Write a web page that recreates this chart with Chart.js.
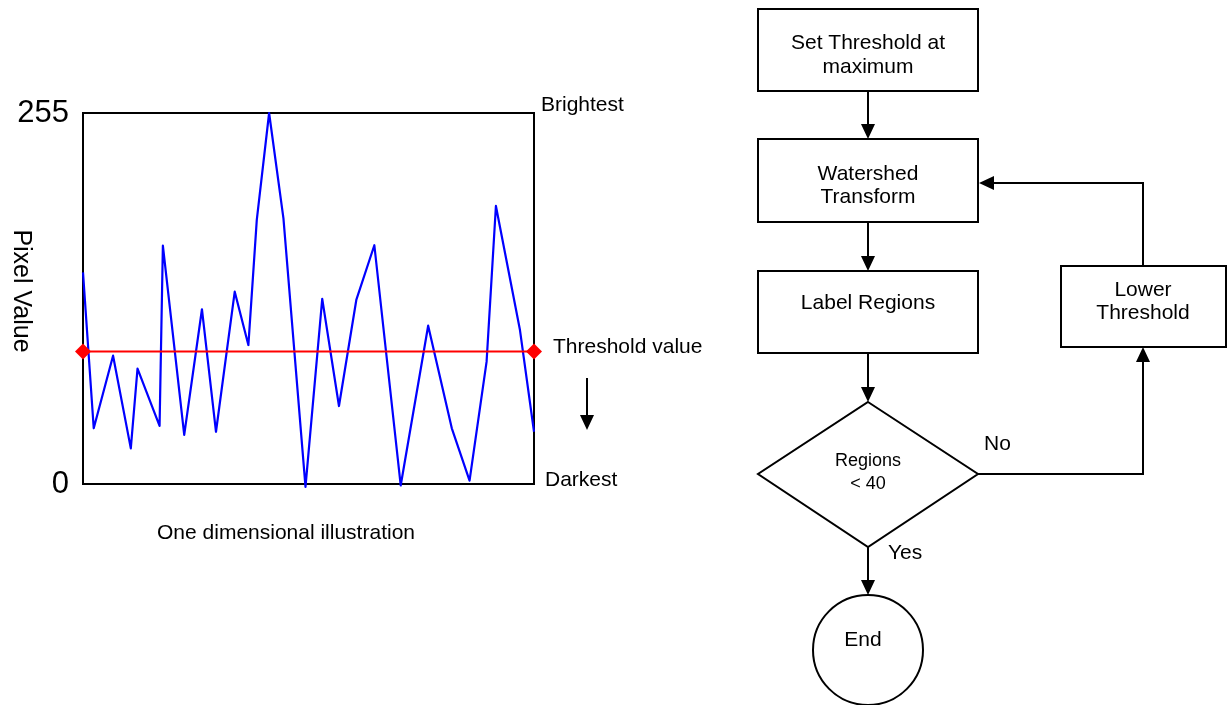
<!DOCTYPE html>
<html>
<head>
<meta charset="utf-8">
<title>Watershed threshold</title>
<script src="https://cdn.jsdelivr.net/npm/chart.js@4.4.0/dist/chart.umd.min.js"></script>
<style>
  html, body { margin: 0; padding: 0; background: #fff; }
  #wrap { position: relative; width: 1227px; height: 705px; }
</style>
</head>
<body>
<div id="wrap"><canvas id="c"></canvas></div>
<script>
// ─── DATA ─────────────────────────────────────────────────────
// positions along the 1-D strip (0..450) and pixel value at each
const POS_X = [0, 10.7, 30, 47.7, 54.4, 76.4, 79.7, 101, 118.7, 132.7,
  151.4, 165, 173.4, 185.7, 200, 222, 238.7, 255.4, 272.7, 290.7,
  317, 344.4, 368, 385.7, 402.7, 412, 436, 450];
const PIXEL_VALUES = [145.5, 38.3, 88.2, 24.5, 79.3, 39.9, 163.8, 33.7, 120.1, 35.9,
  132.2, 95.5, 181.5, 255, 182.6, -2, 127.2, 53.6, 126.5, 164.1,
  -1, 108.8, 38.3, 2.3, 84.1, 191.1, 105.8, 35.9];
const THRESHOLD = 91;
const Y_TICKS = [0, 255];
const SIDE_LABELS = ['Brightest', 'Threshold value', 'Darkest'];
const Y_TITLE = 'Pixel Value';
const X_TITLE = 'One dimensional illustration';

// flowchart texts
const STEP_START = ['Set Threshold at', 'maximum'];
const STEP_WATERSHED = ['Watershed', 'Transform'];
const STEP_LABEL = ['Label Regions'];
const STEP_TEST = ['Regions', '< 40'];
const STEP_LOWER = ['Lower', 'Threshold'];
const STEP_END = 'End';
const BRANCH_NO = 'No';
const BRANCH_YES = 'Yes';

const FONT = 'Arial, "Liberation Sans", Helvetica, sans-serif';

// ─── HELPERS ──────────────────────────────────────────────────
function arrowHead(ctx, x, y, dir) {
  const L = 15, W = 7;
  ctx.beginPath();
  ctx.moveTo(x, y);
  if (dir === 'down')  { ctx.lineTo(x - W, y - L); ctx.lineTo(x + W, y - L); }
  if (dir === 'up')    { ctx.lineTo(x - W, y + L); ctx.lineTo(x + W, y + L); }
  if (dir === 'left')  { ctx.lineTo(x + L, y - W); ctx.lineTo(x + L, y + W); }
  ctx.closePath();
  ctx.fill();
}

function line(ctx, pts) {
  ctx.beginPath();
  ctx.moveTo(pts[0][0], pts[0][1]);
  for (let i = 1; i < pts.length; i++) ctx.lineTo(pts[i][0], pts[i][1]);
  ctx.stroke();
}

function lines(ctx, arr, x, y0, gap) {
  arr.forEach((t, i) => ctx.fillText(t, x, y0 + i * gap));
}

// ─── PLUGINS ──────────────────────────────────────────────────
const framePlugin = {
  id: 'frame',
  beforeDatasetsDraw(chart) {
    const { ctx, chartArea: a } = chart;
    ctx.save();
    ctx.strokeStyle = '#000';
    ctx.lineWidth = 2;
    ctx.strokeRect(a.left, a.top, a.right - a.left, a.bottom - a.top);
    ctx.restore();
  }
};

const annotPlugin = {
  id: 'annot',
  afterDraw(chart) {
    const { ctx, chartArea: a } = chart;
    const y = chart.scales.y;
    ctx.save();
    ctx.fillStyle = '#000';
    ctx.strokeStyle = '#000';
    ctx.textBaseline = 'middle';

    // labels next to the plot
    ctx.font = '21px ' + FONT;
    ctx.textAlign = 'left';
    ctx.fillText(SIDE_LABELS[0], a.right + 7, y.getPixelForValue(255) - 8);
    ctx.fillText(SIDE_LABELS[1], a.right + 19, y.getPixelForValue(THRESHOLD) - 4);
    ctx.fillText(SIDE_LABELS[2], a.right + 11, y.getPixelForValue(0) - 4);

    // down arrow under threshold label
    ctx.lineWidth = 2;
    line(ctx, [[587, 378], [587, 416]]);
    arrowHead(ctx, 587, 430, 'down');

    ctx.textAlign = 'center';
    ctx.fillText(X_TITLE, 286, 533);

    // rotated y title (reads top to bottom)
    ctx.save();
    ctx.translate(21, 291);
    ctx.rotate(Math.PI / 2);
    ctx.font = '25px ' + FONT;
    ctx.fillText(Y_TITLE, 0, 0);
    ctx.restore();

    // ─── flowchart ───
    ctx.lineWidth = 2;
    ctx.strokeRect(758, 9, 220, 82);
    ctx.strokeRect(758, 139, 220, 83);
    ctx.strokeRect(758, 271, 220, 82);
    ctx.strokeRect(1061, 266, 165, 81);

    ctx.beginPath();
    ctx.moveTo(868, 402); ctx.lineTo(978, 474);
    ctx.lineTo(868, 547); ctx.lineTo(758, 474);
    ctx.closePath();
    ctx.stroke();

    ctx.beginPath();
    ctx.arc(868, 650, 55, 0, Math.PI * 2);
    ctx.stroke();

    // connectors
    line(ctx, [[868, 91], [868, 125]]);   arrowHead(ctx, 868, 139, 'down');
    line(ctx, [[868, 222], [868, 257]]);  arrowHead(ctx, 868, 271, 'down');
    line(ctx, [[868, 353], [868, 388]]);  arrowHead(ctx, 868, 402, 'down');
    line(ctx, [[868, 547], [868, 581]]);  arrowHead(ctx, 868, 595, 'down');
    line(ctx, [[978, 474], [1143, 474], [1143, 361]]); arrowHead(ctx, 1143, 347, 'up');
    line(ctx, [[1143, 266], [1143, 183], [993, 183]]); arrowHead(ctx, 979, 183, 'left');

    // texts
    ctx.font = '21px ' + FONT;
    ctx.textAlign = 'center';
    lines(ctx, STEP_START, 868, 43, 24);
    lines(ctx, STEP_WATERSHED, 868, 174, 23);
    lines(ctx, STEP_LABEL, 868, 303, 23);
    lines(ctx, STEP_LOWER, 1143, 290, 23);
    ctx.fillText(STEP_END, 863, 640);
    ctx.textAlign = 'left';
    ctx.fillText(BRANCH_NO, 984, 444);
    ctx.fillText(BRANCH_YES, 888, 553);

    ctx.font = '18px ' + FONT;
    ctx.textAlign = 'center';
    lines(ctx, STEP_TEST, 868, 461, 23);

    ctx.restore();
  }
};

// ─── CHART ────────────────────────────────────────────────────
const profile = POS_X.map((x, i) => ({ x, y: PIXEL_VALUES[i] }));
const thresholdLine = [
  { x: POS_X[0], y: THRESHOLD },
  { x: POS_X[POS_X.length - 1], y: THRESHOLD }
];

new Chart(document.getElementById('c').getContext('2d'), {
  type: 'line',
  data: {
    datasets: [
      {
        label: 'Threshold',
        data: thresholdLine,
        borderColor: '#ff0000',
        backgroundColor: '#ff0000',
        borderWidth: 2,
        pointStyle: 'rectRot',
        pointRadius: 8,
        pointBorderWidth: 0,
        clip: false
      },
      {
        label: 'Pixel value',
        data: profile,
        borderColor: '#0000ff',
        borderWidth: 2.2,
        borderJoinStyle: 'round',
        pointRadius: 0,
        tension: 0,
        clip: false
      }
    ]
  },
  options: {
    responsive: true,
    maintainAspectRatio: false,
    animation: false,
    events: [],
    layout: { padding: { left: 0, top: 113, right: 693, bottom: 221 } },
    plugins: { legend: { display: false }, tooltip: { enabled: false } },
    scales: {
      x: { type: 'linear', min: 0, max: 450, display: false },
      y: {
        min: 0,
        max: 255,
        afterBuildTicks: (s) => { s.ticks = Y_TICKS.map(v => ({ value: v })); },
        afterFit: (s) => { s.width = 83; },
        grid: { display: false, drawTicks: false },
        border: { display: false },
        ticks: {
          padding: 14,
          color: '#000',
          font: { family: FONT, size: 31 }
        }
      }
    }
  },
  plugins: [framePlugin, annotPlugin]
});
</script>
</body>
</html>
